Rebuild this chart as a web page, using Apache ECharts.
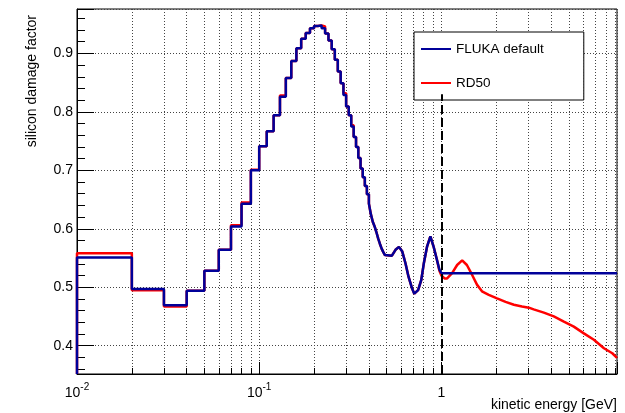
<!DOCTYPE html>
<html>
<head>
<meta charset="utf-8">
<script src="https://cdn.jsdelivr.net/npm/echarts@6/dist/echarts.min.js"></script>
<style>
html,body{margin:0;padding:0;background:#fff}
#chart{width:625px;height:413px}
</style>
</head>
<body>
<div id="chart"></div>
<script>
// histogram bin edges [GeV] (last value = upper edge of last bin)
var binEdges = [0.01,0.02,0.03,0.04,0.05,0.06,0.07,0.08,0.09,0.10,
	0.11,0.12,0.13,0.14,0.15,0.16,0.17,0.18,0.19,0.20,
	0.21,0.22,0.23,0.24,0.25,0.26,0.27,0.28,0.29,0.30,
	0.31,0.32,0.33,0.34,0.35,0.36,0.37,0.38,0.39,0.40,
	0.41,0.42,0.43,0.44,0.45,0.46,0.47,0.48,0.49,0.50];

var flukaBins = [0.551,0.497,0.469,0.494,0.528,0.564,0.604,0.643,0.700,0.741,
	0.767,0.794,0.826,0.858,0.887,0.909,0.925,0.935,0.943,0.947,
	0.948,0.943,0.934,0.922,0.907,0.889,0.869,0.849,0.829,0.809,
	0.794,0.775,0.757,0.740,0.721,0.703,0.688,0.673,0.659,0.643,
	0.625,0.612,0.604,0.594,0.583,0.574,0.566,0.560,0.555];

var rd50Bins = [0.558,0.495,0.467,0.494,0.528,0.564,0.606,0.645,0.701,0.741,
	0.767,0.794,0.828,0.858,0.887,0.909,0.925,0.935,0.943,0.947,
	0.948,0.946,0.934,0.922,0.907,0.889,0.869,0.849,0.832,0.809,
	0.794,0.777,0.757,0.740,0.721,0.703,0.688,0.673,0.659,0.643,
	0.625,0.612,0.604,0.594,0.583,0.574,0.566,0.560,0.555];

// above 0.5 GeV the bins are too narrow to see, read as a curve
var flukaCurveX = [0.50,0.535,0.56,0.585,0.61,0.635,0.66,0.69,0.71,0.745,0.775,0.80,0.835,0.87,0.905,0.945,0.975,1.0,9.2];
var flukaCurveY = [0.554,0.554,0.564,0.569,0.561,0.541,0.518,0.498,0.489,0.495,0.512,0.540,0.570,0.587,0.570,0.547,0.530,0.524,0.524];

var rd50CurveX = [0.50,0.535,0.56,0.585,0.61,0.635,0.66,0.69,0.71,0.745,0.775,0.80,0.835,0.87,0.905,0.945,0.975,
	1.0,1.04,1.075,1.145,1.22,1.30,1.38,1.475,1.57,1.67,1.82,2.02,2.25,2.5,2.77,3.02,3.21,3.65,4.14,4.7,5.33,6.05,6.87,7.8,8.67,9.2];
var rd50CurveY = [0.554,0.554,0.564,0.569,0.561,0.541,0.518,0.498,0.489,0.495,0.512,0.540,0.570,0.587,0.570,0.547,0.528,
	0.520,0.515,0.515,0.524,0.538,0.546,0.538,0.521,0.504,0.493,0.487,0.481,0.475,0.470,0.467,0.465,0.462,0.4565,0.450,0.441,0.4325,0.421,0.410,0.3955,0.387,0.379];

var xMin = 0.01, xMax = 9.2;
var yMin = 0.3515, yMax = 0.976;
var cutEnergy = 1, cutTop = 0.83;

var font = 'Liberation Sans';

// histogram outline + curve -> polyline points
function buildLine(edges, bins, cx, cy){
	var pts = [[edges[0], yMin]];
	for (var i = 0; i < bins.length; i++) {
		pts.push([edges[i], bins[i]]);
		pts.push([edges[i+1], bins[i]]);
	}
	for (var j = 0; j < cx.length; j++) {
		pts.push([cx[j], cy[j]]);
	}
	return pts;
}

var chart = echarts.init(document.getElementById('chart'));
chart.setOption({
	animation: false,
	backgroundColor: '#fff',
	grid: {
		left: 77, right: 8, top: 9, bottom: 39,
		show: true,
		borderColor: '#000',
		borderWidth: 1
	},
	legend: {
		data: ['FLUKA default', 'RD50'],
		orient: 'vertical',
		left: 414,
		top: 32,
		padding: [9, 40, 9, 7],
		itemGap: 18,
		itemWidth: 30,
		itemHeight: 2,
		icon: 'rect',
		backgroundColor: '#fff',
		borderColor: '#000',
		borderWidth: 1,
		textStyle: {fontFamily: font, fontSize: 13.5, color: '#000', lineHeight: 16}
	},
	xAxis: {
		type: 'log',
		logBase: 10,
		min: xMin,
		max: xMax,
		axisLine: {lineStyle: {color: '#000', width: 1}},
		axisTick: {inside: true, length: 12, lineStyle: {color: '#000'}},
		minorTick: {show: true, splitNumber: 9, length: 6, lineStyle: {color: '#000'}},
		splitLine: {show: true, lineStyle: {color: '#444', type: [1, 2]}},
		minorSplitLine: {show: true, lineStyle: {color: '#444', type: [1, 2]}},
		axisLabel: {
			showMaxLabel: false,
			margin: 8,
			color: '#000',
			fontFamily: font,
			formatter: function(v){
				var e = Math.round(Math.log10(v));
				if (e === 0) return '{b|1}';
				return '{b|10}{s|' + e + '}';
			},
			rich: {
				b: {fontFamily: font, fontSize: 14, color: '#000', lineHeight: 18, verticalAlign: 'bottom'},
				s: {fontFamily: font, fontSize: 10, color: '#000', lineHeight: 10, verticalAlign: 'top'}
			}
		}
	},
	yAxis: {
		type: 'value',
		min: yMin,
		max: yMax,
		splitNumber: 5,
		axisLine: {show: true, lineStyle: {color: '#000', width: 1}},
		axisTick: {inside: true, length: 17, lineStyle: {color: '#000'}},
		minorTick: {show: true, splitNumber: 5, length: 8, lineStyle: {color: '#000'}},
		splitLine: {show: true, lineStyle: {color: '#444', type: [1, 2]}},
		axisLabel: {
			showMinLabel: false,
			showMaxLabel: false,
			margin: 4,
			color: '#000',
			fontFamily: font,
			fontSize: 14,
			formatter: function(v){ return v.toFixed(1); }
		}
	},
	graphic: [
		{
			type: 'text',
			x: 32, y: 15,
			rotation: Math.PI / 2,
			style: {text: 'silicon damage factor', fontFamily: font, fontSize: 14, fill: '#000', align: 'right', verticalAlign: 'middle'}
		},
		{
			type: 'text',
			x: 617, y: 405,
			style: {text: 'kinetic energy [GeV]', fontFamily: font, fontSize: 14, fill: '#000', align: 'right', verticalAlign: 'middle'}
		}
	],
	series: [
		{
			name: 'RD50',
			type: 'line',
			symbol: 'none',
			clip: false,
			color: '#ff0000',
			lineStyle: {width: 2.5, color: '#ff0000'},
			data: buildLine(binEdges, rd50Bins, rd50CurveX, rd50CurveY)
		},
		{
			name: 'FLUKA default',
			type: 'line',
			symbol: 'none',
			clip: false,
			color: '#000099',
			lineStyle: {width: 2.5, color: '#000099'},
			data: buildLine(binEdges, flukaBins, flukaCurveX, flukaCurveY),
			markLine: {
				silent: true,
				symbol: ['none', 'none'],
				label: {show: false},
				lineStyle: {color: '#000', type: [9, 4], width: 2},
				data: [[{coord: [cutEnergy, yMin]}, {coord: [cutEnergy, cutTop]}]]
			}
		}
	]
});
</script>
</body>
</html>
